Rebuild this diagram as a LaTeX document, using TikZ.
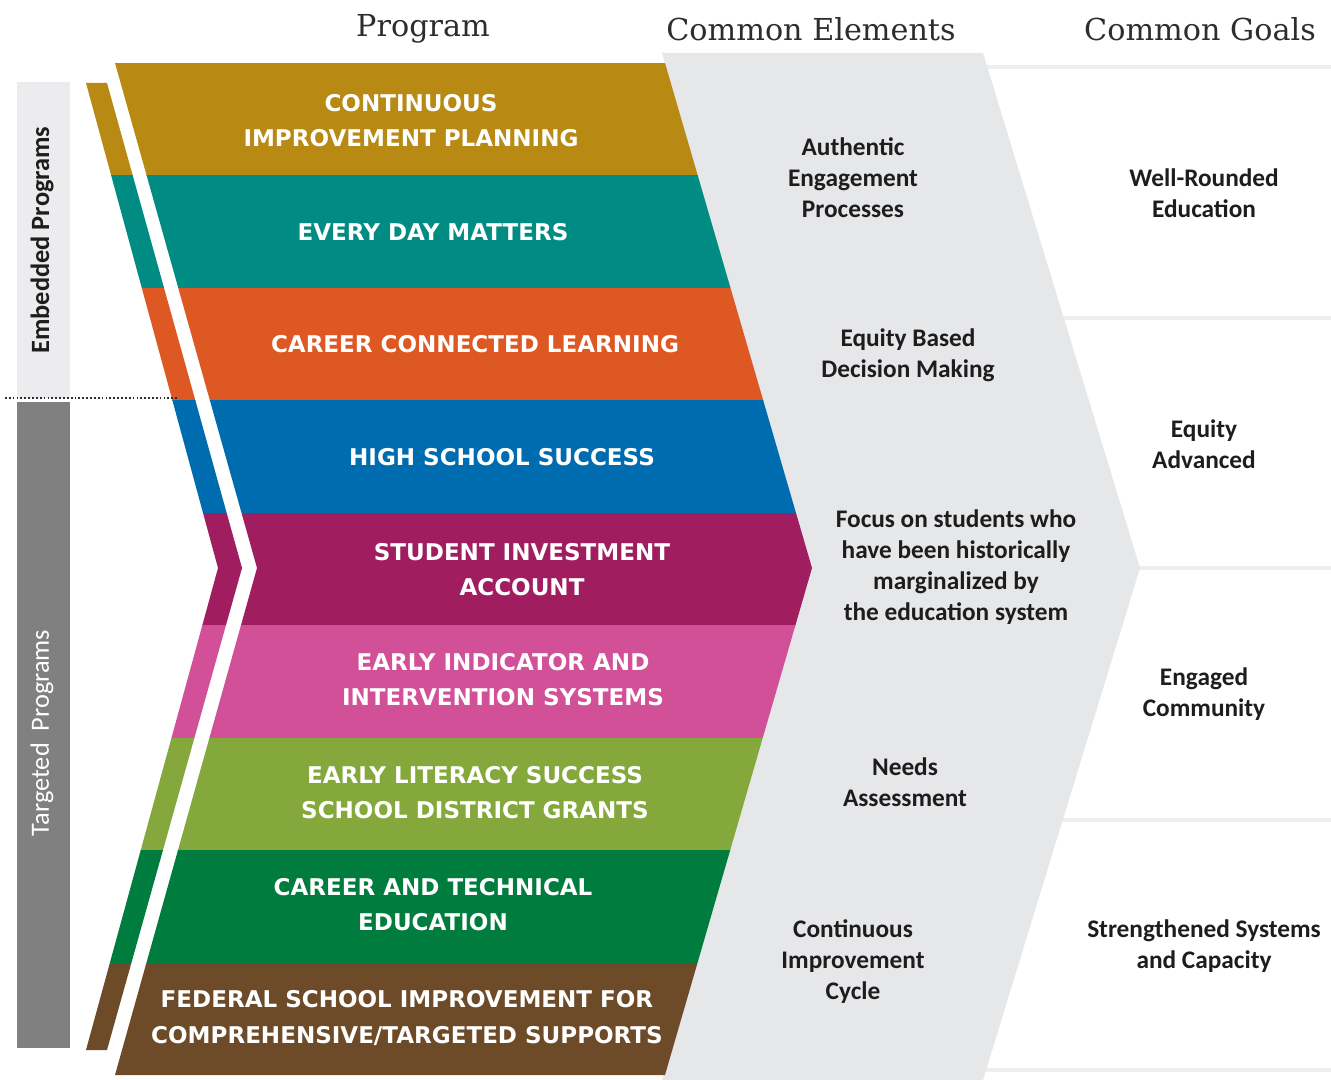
\documentclass[tikz,border=0pt]{standalone}
\usepackage{fontspec}
\setmainfont{Carlito}
\newfontfamily\headfont{DejaVu Serif}
\newfontfamily\bandfont{DejaVu Sans}

\definecolor{bandA}{RGB}{184,138,20}
\definecolor{bandB}{RGB}{0,140,130}
\definecolor{bandC}{RGB}{222,88,36}
\definecolor{bandD}{RGB}{0,108,176}
\definecolor{bandE}{RGB}{160,30,96}
\definecolor{bandF}{RGB}{210,80,152}
\definecolor{bandG}{RGB}{132,168,60}
\definecolor{bandH}{RGB}{0,124,62}
\definecolor{bandI}{RGB}{110,75,40}
\definecolor{elemgrey}{RGB}{230,231,233}
\definecolor{embedgrey}{RGB}{236,236,238}
\definecolor{targetgrey}{RGB}{128,128,128}
\definecolor{linegrey}{RGB}{238,238,238}
\definecolor{inkgrey}{RGB}{30,28,29}
\definecolor{headgrey}{RGB}{45,45,45}

\tikzset{
  bandtext/.style={text=white, align=center, font=\bandfont\bfseries\fontsize{6.55}{10}\selectfont},
  elemtext/.style={text=inkgrey, align=center, font=\bfseries\fontsize{7.2}{8.8}\selectfont},
  headtext/.style={text=headgrey, font=\headfont\fontsize{8.6}{10}\selectfont},
  sidetext/.style={rotate=90, font=\fontsize{7.5}{9}\selectfont},
  goalline/.style={linegrey, line width=0.9pt}
}

\begin{document}
\begin{tikzpicture}[x=0.01cm, y=-0.01cm]
  \useasboundingbox (0,0) rectangle (1331,1080);

  % column headers
  \node[headtext] (hprog) at (423,29) {Program};
  \node[headtext] (helem) at (811,29) {Common Elements};
  \node[headtext] (hgoal) at (1200,29) {Common Goals};

  % separators between the goals
  \foreach \y/\xs in {67/960, 318/1040, 568/1100, 820/1040, 1070/960}
    \draw[goalline] (\xs,\y) -- (1331,\y);

  % grey chevron of common elements
  \fill[elemgrey] (662,53) -- (983,53) -- (1140,568) -- (983,1080) -- (662,1080) -- (810,568) -- cycle;

  % coloured program bands, main chevron and thin strip
  \begin{scope}
    \clip (115,63) -- (665,63) -- (812,568) -- (665,1075) -- (115,1075) -- (257,568) -- cycle
          (86,83) -- (107,83) -- (242,568) -- (107,1050) -- (86,1050) -- (218,568) -- cycle;
    \foreach \i/\col in {0/bandA,1/bandB,2/bandC,3/bandD,4/bandE,5/bandF,6/bandG,7/bandH,8/bandI}
      \fill[\col] (60,{63+112.44*\i}) rectangle (900,{63+112.44*(\i+1)+0.6});
  \end{scope}

  % left side bars
  \fill[embedgrey] (17,82) rectangle (70,398);
  \fill[targetgrey] (17,402) rectangle (70,1048);
  \node[sidetext, text=inkgrey, font=\bfseries\fontsize{7.5}{9}\selectfont] (embed) at (42,240) {Embedded Programs};
  \node[sidetext, text=white] (target) at (42,733) {Targeted~~Programs};
  \draw[headgrey, line width=0.6pt, dash pattern=on 0.5pt off 0.6pt] (5,398) -- (178,398);

  % program names
  \foreach \n/\x/\y/\txt in {
      1/411/121/{CONTINUOUS\\IMPROVEMENT PLANNING},
      2/433/232/{EVERY DAY MATTERS},
      3/475/344/{CAREER CONNECTED LEARNING},
      4/502/457/{HIGH SCHOOL SUCCESS},
      5/522/570/{STUDENT INVESTMENT\\ACCOUNT},
      6/503/680/{EARLY INDICATOR AND\\INTERVENTION SYSTEMS},
      7/475/793/{EARLY LITERACY SUCCESS\\SCHOOL DISTRICT GRANTS},
      8/433/905/{CAREER AND TECHNICAL\\EDUCATION},
      9/407/1018/{FEDERAL SCHOOL IMPROVEMENT FOR\\COMPREHENSIVE/TARGETED SUPPORTS}}
    \node[bandtext] (p\n) at (\x,\y) {\txt};

  % common elements
  \node[elemtext] (e1) at (853,178) {Authentic\\Engagement\\Processes};
  \node[elemtext] (e2) at (908,355) {Equity Based\\Decision Making};
  \node[elemtext] (e3) at (956,567) {Focus on students who\\have been historically\\marginalized by\\the education system};
  \node[elemtext] (e4) at (905,782) {Needs\\Assessment};
  \node[elemtext] (e5) at (853,962) {Continuous\\Improvement\\Cycle};

  % common goals
  \node[elemtext] (g1) at (1204,193) {Well-Rounded\\Education};
  \node[elemtext] (g2) at (1204,444) {Equity\\Advanced};
  \node[elemtext] (g3) at (1204,694) {Engaged\\Community};
  \node[elemtext] (g4) at (1204,946) {Strengthened Systems\\and Capacity};
\end{tikzpicture}
\end{document}
